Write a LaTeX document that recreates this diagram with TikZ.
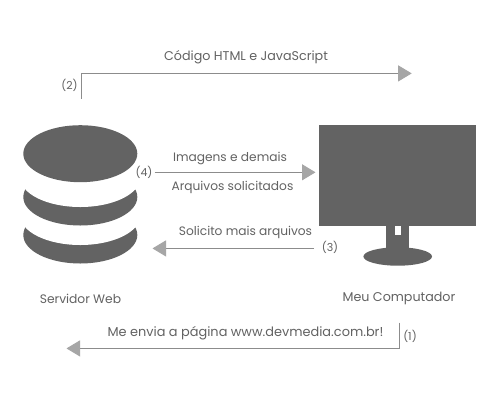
\documentclass[tikz,border=0pt]{standalone}
\usepackage{fontspec}
\setmainfont{Poppins}
\usetikzlibrary{arrows.meta}
\definecolor{dark}{HTML}{636363}
\definecolor{ink}{HTML}{626262}
\definecolor{wire}{HTML}{8C8C8C}
\definecolor{headc}{HTML}{A6A6A6}
\tikzset{
  lab/.style={inner sep=0pt,text=ink,font=\fontsize{12.7pt}{14pt}\selectfont},
  midlab/.style={lab,font=\fontsize{12.2pt}{14pt}\selectfont},
  numlab/.style={lab,font=\fontsize{11pt}{13pt}\selectfont},
  shp/.style={fill=dark,draw=none},
  gap/.style={fill=white,draw=none},
  conn/.style={draw=wire,line width=0.9pt,-{Triangle[length=13.5pt,width=16pt,fill=headc,color=headc]}},
}
\begin{document}
\begin{tikzpicture}[x=1pt,y=-1pt]
\useasboundingbox[fill=white] (0,0) rectangle (500,400);
% server
\fill[shp] (80.3,235) ellipse [x radius=57,y radius=28.5];
\fill[gap] (80.3,215.5) ellipse [x radius=60,y radius=29.5];
\fill[shp] (80.3,197) ellipse [x radius=57,y radius=28.5];
\fill[gap] (80.3,177.5) ellipse [x radius=60,y radius=29.5];
\fill[shp] (80.3,153.7) ellipse [x radius=57,y radius=28.5];
% monitor
\fill[shp] (319,125) rectangle (476,225.7);
\fill[shp] (385.7,225) rectangle (409.3,252);
\fill[shp] (397.7,256.5) ellipse [x radius=34.3,y radius=9.2];
\fill[white] (395,225.7) rectangle (401,234.5);
% labels
\node[lab] (t2) at (246,57.5) {Código HTML e JavaScript};
\node[numlab] (n2) at (69.5,85) {(2)};
\node[midlab] (t4a) at (230,158) {Imagens e demais};
\node[midlab] (t4b) at (232.5,187) {Arquivos solicitados};
\node[numlab] (n4) at (144,172) {(4)};
\node[midlab] (t3) at (245.5,232.5) {Solicito mais arquivos};
\node[numlab] (n3) at (330,247.5) {(3)};
\node[lab,font=\fontsize{12.3pt}{14pt}\selectfont] (srv) at (80.5,298.5) {Servidor Web};
\node[lab] (pc) at (399,298.5) {Meu Computador};
\node[lab,font=\fontsize{12.9pt}{14pt}\selectfont] (t1) at (245.5,333.5) {Me envia a página www.devmedia.com.br!};
\node[numlab] (n1) at (410,336.5) {(1)};
% connector ends
\coordinate (a2) at (81.5,98.5);
\coordinate (b2) at (411.7,73.4);
\coordinate (a4) at (154.5,172.3);
\coordinate (b4) at (315.5,172.3);
\coordinate (a3) at (314,248.4);
\coordinate (b3) at (152.5,248.4);
\coordinate (a1) at (399,322.7);
\coordinate (b1) at (66.5,348.4);
\draw[conn] (a2) |- (b2);
\draw[conn] (a4) -- (b4);
\draw[conn] (a3) -- (b3);
\draw[conn] (a1) |- (b1);
\end{tikzpicture}
\end{document}
